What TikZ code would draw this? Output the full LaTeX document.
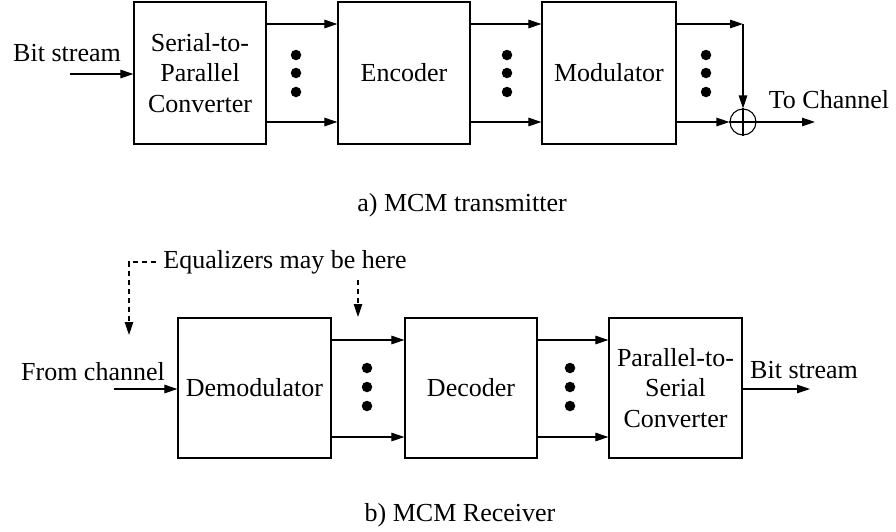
\documentclass[tikz,border=0pt]{standalone}
\usepackage{fontspec}
\setmainfont{Liberation Serif}
\usetikzlibrary{arrows.meta,calc}
\begin{document}
\begin{tikzpicture}[x=1pt,y=-1pt,
  txt/.style={font=\fontsize{26}{30}\selectfont, inner sep=0pt},
  blk/.style={draw, line width=1.2pt, minimum height=142pt, align=center,
              inner sep=0pt, font=\fontsize{26}{30.5}\selectfont},
  arr/.style={line width=1.1pt, -{Triangle[length=13pt,width=8.5pt]}},
  dsh/.style={line width=1.1pt, dash pattern=on 5pt off 4pt, -{Triangle[length=13pt,width=8.5pt]}},
  pt/.style={circle, fill, inner sep=0pt, minimum size=10.5pt},
  lbl/.style={font=\fontsize{26}{30}\selectfont, inner sep=0pt}]
\useasboundingbox (0,0) rectangle (896,531);

% ---------- transmitter ----------
\node[blk, minimum width=132pt] (sp)  at (200,73) {Serial-to-\\Parallel\\Converter};
\node[blk, minimum width=132pt] (enc) at (404,73) {Encoder};
\node[blk, minimum width=134pt] (mod) at (609,73) {Modulator};
\node[draw, circle, line width=1.1pt, minimum size=26pt, inner sep=0pt] (sum) at (743,122) {};
\draw[line width=1.1pt] (sum.north) -- (sum.south) (sum.west) -- (sum.east);

\node[txt] (bitin) at (67,53) {Bit stream};
\coordinate (inA) at (70,74);
\draw[arr] (inA) -- (sp.west |- inA);

\foreach \a/\b in {sp/enc, enc/mod}{
  \draw[arr] (\a.east |- 0,24) -- (\b.west |- 0,24);
  \draw[arr] (\a.east |- 0,122) -- (\b.west |- 0,122);
}
\coordinate (corner) at (743,24);
\draw[arr] (mod.east |- corner) -- (corner);
\draw[arr] (corner) -- (sum.north);
\draw[arr] (mod.east |- sum) -- (sum.west);
\coordinate (outA) at (815,122);
\draw[arr] (sum.east) -- (outA);
\node[txt] (tochan) at (829,100) {To Channel};

\foreach \x in {296,507,706}
  \foreach \y in {55,73,92}
    \node[pt] at (\x,\y) {};

\node[lbl] (capa) at (462,205) {a) MCM transmitter};

% ---------- receiver ----------
\node[blk, minimum width=153pt, minimum height=140pt] (dem) at (254.5,388) {Demodulator};
\node[blk, minimum width=132pt, minimum height=140pt] (dec) at (471,388) {Decoder};
\node[blk, minimum width=133pt, minimum height=140pt] (ps)  at (675.5,388) {Parallel-to-\\Serial\\Converter};

\node[txt] (fromch) at (93,372) {From channel};
\coordinate (inB) at (114,389);
\draw[arr] (inB) -- (dem.west |- inB);

\foreach \a/\b in {dem/dec, dec/ps}{
  \draw[arr] (\a.east |- 0,340) -- (\b.west |- 0,340);
  \draw[arr] (\a.east |- 0,437) -- (\b.west |- 0,437);
}
\coordinate (outB) at (810,389);
\draw[arr] (ps.east |- outB) -- (outB);
\node[txt] (bitout) at (804,370) {Bit stream};

\foreach \x in {367,570}
  \foreach \y in {368,387,406}
    \node[pt] at (\x,\y) {};

\node[txt] (eq) at (285,262) {Equalizers may be here};
\coordinate (eqA) at (129,262);
\coordinate (eqAend) at (129,335);
\draw[dsh] (eq.west) ++(-7,0) -- (eqA) -- (eqAend);
\coordinate (eqB) at (358,280);
\draw[dsh] (eqB) -- (358,317);

\node[lbl] (capb) at (460,515) {b) MCM Receiver};
\end{tikzpicture}
\end{document}
